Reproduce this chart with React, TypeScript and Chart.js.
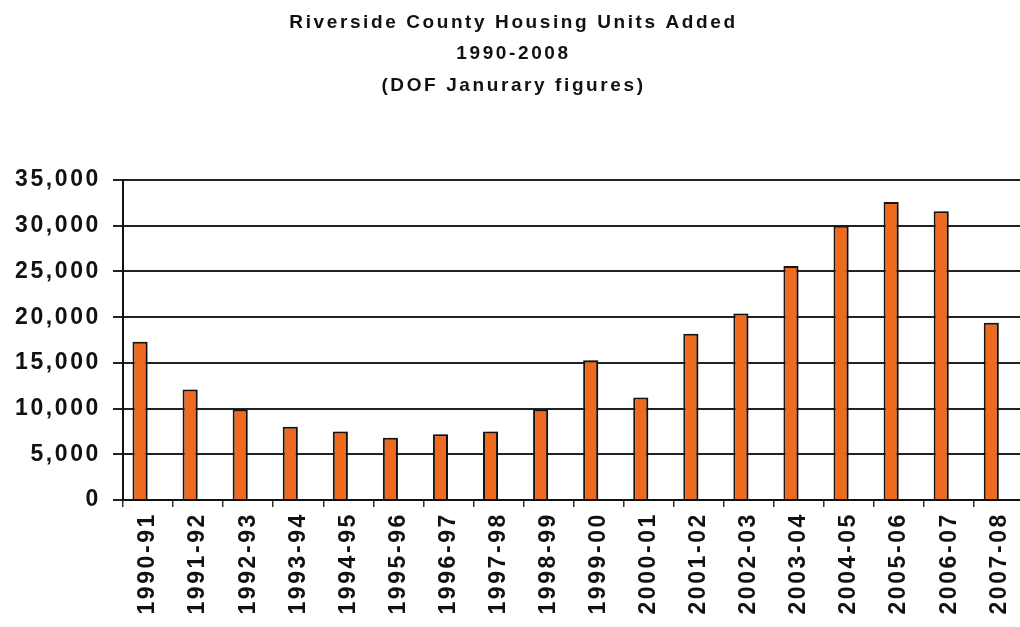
import React, { useEffect, useRef } from "react";
import { Chart, registerables } from "chart.js";

Chart.register(...registerables);

const titleLines = ["Riverside County Housing Units Added", "1990-2008", "(DOF Janurary figures)"];
const categories = [
  "1990-91", "1991-92", "1992-93", "1993-94", "1994-95", "1995-96", "1996-97", "1997-98", "1998-99",
  "1999-00", "2000-01", "2001-02", "2002-03", "2003-04", "2004-05", "2005-06", "2006-07", "2007-08",
];
const unitsAdded = [
  17300, 12100, 9900, 8000, 7500, 6800, 7200, 7500, 9900,
  15300, 11200, 18200, 20400, 25600, 30000, 32600, 31600, 19400,
];
const yMin = 0;
const yMax = 35000;
const yStep = 5000;

const FONT = "'Liberation Sans', Arial, Helvetica, sans-serif";
const SPACING = "2.6px";

const spacingPlugin = {
  id: "letterSpacing",
  beforeInit(chart: any) {
    chart.ctx.letterSpacing = SPACING;
  },
  beforeUpdate(chart: any) {
    chart.ctx.letterSpacing = SPACING;
  },
  beforeDraw(chart: any) {
    chart.ctx.letterSpacing = SPACING;
  },
};

const shadowPlugin = {
  id: "barShadow",
  beforeDatasetDraw(chart: any) {
    const ctx = chart.ctx;
    ctx.save();
    ctx.shadowColor = "rgba(0,0,0,0.35)";
    ctx.shadowOffsetX = 4;
    ctx.shadowOffsetY = 0;
    ctx.shadowBlur = 3;
  },
  afterDatasetDraw(chart: any) {
    chart.ctx.restore();
  },
};

export default function App() {
  const ref = useRef<HTMLCanvasElement | null>(null);
  useEffect(() => {
    document.body.style.margin = "0";
    document.body.style.overflow = "hidden";
    const canvas = ref.current!;
    const chart = new Chart(canvas, {
      type: "bar",
      data: {
        labels: categories,
        datasets: [
          {
            label: "Housing Units Added",
            data: unitsAdded,
            backgroundColor: "#EE6A1F",
            borderColor: "#151515",
            borderWidth: 2,
            borderSkipped: "bottom",
            categoryPercentage: 0.64,
            barPercentage: 0.94,
          },
          {
            label: "",
            data: categories.map(() => null),
            backgroundColor: "rgba(0,0,0,0)",
            categoryPercentage: 0.64,
            barPercentage: 0.94,
          },
        ],
      },
      options: {
        animation: false,
        responsive: false,
        maintainAspectRatio: false,
        layout: { padding: { top: 0, right: 5, left: 0, bottom: 0 } },
        plugins: {
          legend: { display: false },
          tooltip: { enabled: false },
          title: {
            display: true,
            text: titleLines,
            color: "#111",
            font: { family: FONT, size: 19, weight: "bold", lineHeight: 1.65 },
            padding: { top: 7, bottom: 79 },
          },
        },
        scales: {
          x: {
            grid: {
              display: true,
              drawOnChartArea: false,
              drawTicks: true,
              tickLength: 7,
              color: "#333",
              lineWidth: 1.5,
              offset: true,
            },
            border: { display: true, color: "#111", width: 2 },
            ticks: {
              color: "#111",
              font: { family: FONT, size: 23, weight: "bold" },
              minRotation: 90,
              maxRotation: 90,
              autoSkip: false,
              padding: 5,
            },
            afterFit(scale: any) {
              scale.height = 127;
            },
          },
          y: {
            min: yMin,
            max: yMax,
            ticks: {
              stepSize: yStep,
              color: "#111",
              font: { family: FONT, size: 23, weight: "bold" },
              padding: 12,
              callback: (v: any) => Number(v).toLocaleString("en-US"),
            },
            grid: {
              color: "#222",
              lineWidth: 2,
              tickLength: 10,
            },
            border: { display: true, color: "#111", width: 2 },
            afterFit(scale: any) {
              scale.width = 123;
            },
          },
        },
      },
      plugins: [spacingPlugin, shadowPlugin],
    });
    return () => chart.destroy();
  }, []);
  return (
    <div style={{ position: "absolute", left: 0, top: 0, width: 1020, height: 627, overflow: "hidden", background: "#fff" }}>
      <canvas ref={ref} width={1032} height={627} style={{ display: "block", width: 1032, height: 627 }} />
    </div>
  );
}
